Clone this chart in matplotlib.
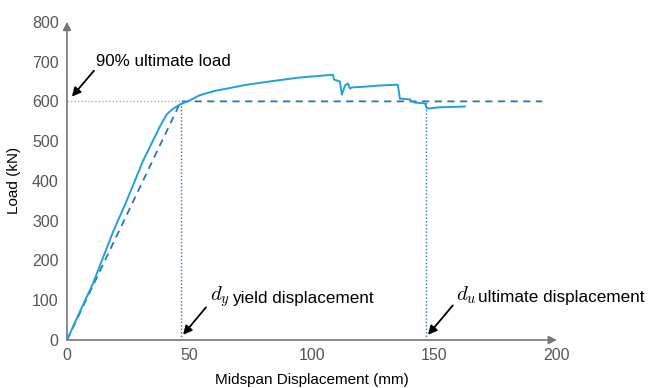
import numpy as np
import matplotlib.pyplot as plt

plt.rcParams['font.family'] = ['Liberation Sans', 'DejaVu Sans']
plt.rcParams['mathtext.fontset'] = 'cm'

# measured load-displacement response
disp = [0, 5, 10.6, 18.8, 24.5, 31, 38, 40.8, 43, 46, 50, 54, 60, 73.5, 85, 95,
        108.6, 109, 111.4, 112.2, 113.5, 114.7, 115.5, 116.3, 121.6, 127.8,
        134.7, 135.1, 135.9, 140, 140.8, 142, 146.1, 147, 152, 162.4]
load = [0, 68, 142, 272, 352, 450, 538, 568, 580, 592, 602, 615, 626, 642, 652, 660,
        667, 655, 650, 617, 640, 645, 632, 635, 637, 640,
        642, 641, 607, 605, 600, 597, 595, 582, 585, 587]

# idealised bilinear curve
d_y = 46.5
d_u = 146.5
p_90 = 600
ideal_x = [0, d_y, 194]
ideal_y = [0, p_90, p_90]

fig = plt.figure(figsize=(6.48, 3.88), dpi=100)
ax = fig.add_axes([0.1034, 0.1237, 0.756, 0.82])

ax.plot(ideal_x, ideal_y, color='#2a78ad', lw=1.3, ls=(0, (4, 3)))
ax.plot(disp, load, color='#22a0d8', lw=1.4)
ax.plot([0, d_y], [p_90, p_90], color='#aaaaaa', lw=1, ls=(0, (1, 1.5)))
ax.plot([d_y, d_y], [0, p_90], color='#2a78ad', lw=1, ls=(0, (1, 1.5)))
ax.plot([d_u, d_u], [0, p_90], color='#2a78ad', lw=1, ls=(0, (1, 1.5)))

ax.set_xlim(0, 200)
ax.set_ylim(0, 800)
ax.set_xticks([0, 50, 100, 150, 200])
ax.set_yticks(np.arange(0, 801, 100))
ax.tick_params(length=0, labelsize=11.5, colors='#555555', pad=6)
for s in ax.spines.values():
    s.set_visible(False)

# axes drawn as arrows
ax.annotate('', xy=(200, 0), xytext=(0, 0), annotation_clip=False,
            arrowprops=dict(arrowstyle='-|>', color='#777777', lw=1.2,
                            shrinkA=0, shrinkB=0, mutation_scale=12))
ax.annotate('', xy=(0, 800), xytext=(0, 0), annotation_clip=False,
            arrowprops=dict(arrowstyle='-|>', color='#777777', lw=1.2,
                            shrinkA=0, shrinkB=0, mutation_scale=12))

ax.set_xlabel('Midspan Displacement (mm)', fontsize=11, labelpad=7)
ax.set_ylabel('Load (kN)', fontsize=11, labelpad=8)

arrow = dict(arrowstyle='-|>', color='black', lw=1.3, mutation_scale=13,
             shrinkA=0, shrinkB=0)
ax.annotate('', xy=(2, 612), xytext=(11, 677), arrowprops=arrow)
ax.text(12, 700, '90% ultimate load', fontsize=12.2, va='center')

ax.annotate('', xy=(47.4, 13), xytext=(56.7, 82), arrowprops=arrow)
ax.text(58.3, 108, r'$d_y$', fontsize=15, va='center')
ax.text(67.2, 105, 'yield displacement', fontsize=12.3, va='center')

ax.annotate('', xy=(147.4, 13), xytext=(157.5, 87), arrowprops=arrow)
ax.text(159, 112, r'$d_u$', fontsize=15, va='center')
ax.text(167.8, 108, 'ultimate displacement', fontsize=12.3, va='center')

fig.savefig('out.png', dpi=100)
